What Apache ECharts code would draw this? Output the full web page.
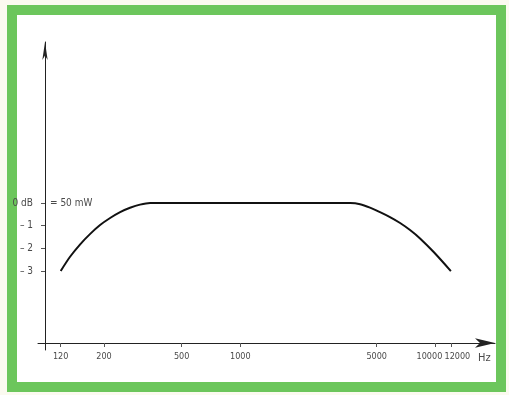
<!DOCTYPE html>
<html>
<head>
<meta charset="utf-8">
<script src="https://cdn.jsdelivr.net/npm/echarts@6/dist/echarts.min.js"></script>
<style>
  html, body { margin: 0; padding: 0; width: 509px; height: 395px; background: #fbfaf0; overflow: hidden; }
  #frame { position: absolute; left: 7px; top: 5px; width: 479px; height: 367px; border: 10px solid #6cc65c; background: #ffffff; }
  #chart { position: absolute; left: 0; top: 0; width: 509px; height: 395px; }
</style>
</head>
<body>
<div id="frame"></div>
<div id="chart"></div>
<script>
// Frequency response data (Hz, dB)
const freqHz   = [120, 134, 151, 170, 191, 215, 242, 272, 306, 345, 1000, 3660, 4110, 4620, 5200, 5850, 6590, 7410, 8340, 9770, 12000];
const levelDb  = [-3, -2.37, -1.82, -1.36, -0.97, -0.66, -0.40, -0.21, -0.07, 0, 0, 0, -0.05, -0.20, -0.40, -0.62, -0.88, -1.19, -1.56, -2.15, -3.0];
const xTicks   = [120, 200, 500, 1000, 5000, 10000];
const xEndTick = [12000];
const yTicks   = [0, -1, -2, -3];
const yLabels  = ['0 dB', '– 1', '– 2', '– 3'];
const refLabel = '= 50 mW';
const unitLabel = 'Hz';

const chart = echarts.init(document.getElementById('chart'), null, { renderer: 'canvas' });
const font = "'DejaVu Sans Condensed', 'Liberation Sans Narrow', sans-serif";
const txt = '#4a4a4a';
const xMin = 91.8, xMax = 20200, yMin = -6.48, yMax = 7.10;
const xfs = 9;

const labelBase = { margin: 9, color: txt, fontFamily: font, fontSize: xfs };

chart.setOption({
  animation: false,
  backgroundColor: 'transparent',
  grid: { left: 38, right: 14, top: 42, bottom: 45 },
  xAxis: [{
    type: 'log', logBase: 10, min: xMin, max: xMax,
    offset: -7,
    axisLine: { show: true, onZero: false, lineStyle: { color: '#222', width: 1 }, symbol: ['none', 'arrow'], symbolSize: [7, 20] },
    axisTick: { show: true, customValues: xTicks.concat(xEndTick), length: 4, lineStyle: { color: '#555' } },
    axisLabel: Object.assign({}, labelBase, {
      customValues: xTicks, hideOverlap: false, showMinLabel: true, showMaxLabel: true,
      formatter: v => {
        const s = String(Math.round(v));
        return Math.round(v) === 10000 ? '{l|' + s + '}' : s;
      },
      rich: { l: { padding: [0, 12, 0, 0], color: txt, fontFamily: font, fontSize: xfs } }
    }),
    minorTick: { show: false }, splitLine: { show: false }, minorSplitLine: { show: false },
    name: unitLabel, nameLocation: 'end', nameGap: -17,
    nameTextStyle: { color: txt, fontFamily: font, fontSize: 11, align: 'left', verticalAlign: 'top', padding: [10, 0, 0, 0] }
  }, {
    type: 'log', logBase: 10, min: xMin, max: xMax,
    offset: -7, position: 'bottom',
    axisLine: { show: false, onZero: false }, axisTick: { show: false },
    axisLabel: Object.assign({}, labelBase, {
      customValues: xEndTick, showMinLabel: true, showMaxLabel: true,
      formatter: v => '{r|' + Math.round(v) + '}',
      rich: { r: { padding: [0, 0, 0, 13], color: txt, fontFamily: font, fontSize: xfs } }
    }),
    minorTick: { show: false }, splitLine: { show: false }, minorSplitLine: { show: false }
  }],
  yAxis: [{
    type: 'value', min: yMin, max: yMax, offset: -7,
    axisLine: { show: true, onZero: false, lineStyle: { color: '#222', width: 1 }, symbol: ['none', 'arrow'], symbolSize: [4, 18] },
    axisTick: { show: true, customValues: yTicks, length: 4, lineStyle: { color: '#555' } },
    axisLabel: {
      customValues: yTicks, margin: 12, color: txt, fontFamily: font, fontSize: 10,
      formatter: v => yLabels[yTicks.indexOf(Math.round(v))]
    },
    splitLine: { show: false }
  }, {
    type: 'value', min: yMin, max: yMax, offset: -7, position: 'left',
    axisLine: { show: false }, axisTick: { show: false },
    axisLabel: {
      customValues: [0], inside: true, margin: 5, color: txt, fontFamily: font, fontSize: 10,
      formatter: () => refLabel
    },
    splitLine: { show: false }
  }],
  series: [{
    type: 'line',
    data: freqHz.map((f, i) => [f, levelDb[i]]),
    showSymbol: false,
    smooth: 0.3,
    lineStyle: { color: '#111', width: 2 }
  }]
});
</script>
</body>
</html>
